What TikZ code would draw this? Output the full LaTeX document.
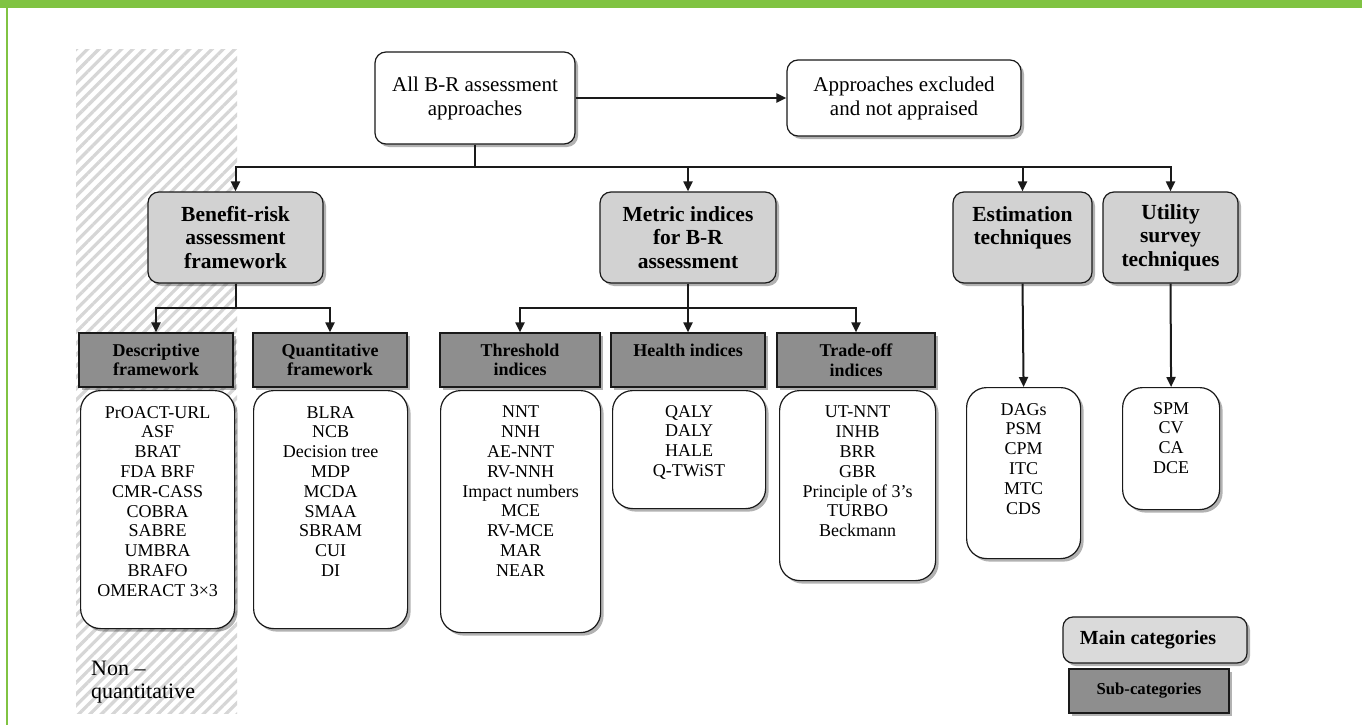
\documentclass[tikz,border=0pt]{standalone}
\usepackage{fontspec}
\setmainfont{Liberation Serif}
\usetikzlibrary{arrows.meta,shadows,patterns.meta}
\definecolor{grn}{HTML}{80C342}
\definecolor{maingray}{HTML}{D2D2D2}
\definecolor{leggray}{HTML}{DADADA}
\definecolor{subgray}{HTML}{8E8E8E}
\definecolor{hatchc}{HTML}{D6D6D6}
\definecolor{ink}{HTML}{1A1A1A}
\tikzset{
  shad/.style={drop shadow={shadow xshift=3pt,shadow yshift=-3pt,fill=black,opacity=0.3}},
  topbox/.style={draw=ink, line width=1.2pt, fill=white, rounded corners=11pt, shad, align=center, inner sep=0pt,
    font=\fontsize{21pt}{24pt}\selectfont},
  mainbox/.style={draw=ink, line width=1.2pt, fill=maingray, rounded corners=11pt, shad, align=center, inner sep=0pt,
    minimum height=91pt, font=\fontsize{21.5pt}{23.5pt}\selectfont\bfseries},
  subbox/.style={draw=ink, line width=1.2pt, fill=subgray, shad, align=center, inner sep=0pt,
    minimum height=54pt, font=\fontsize{18pt}{19.5pt}\selectfont\bfseries},
  listbox/.style={draw=ink, line width=1.2pt, fill=white, rounded corners=20pt, shad, inner sep=0pt, anchor=north west},
  listtext/.style={anchor=north, align=center, inner sep=0pt, font=\fontsize{18pt}{19.8pt}\selectfont},
  conn/.style={draw=ink, line width=2pt},
  arr/.style={draw=ink, line width=2pt, -{Triangle[length=10pt,width=9pt]}},
}
\begin{document}
\begin{tikzpicture}[x=1pt,y=-1pt]
\useasboundingbox (0,0) rectangle (1362,725);
\fill[white] (0,0) rectangle (1362,725);
% green frame
\fill[grn] (0,0) rectangle (1362,8);
\fill[grn] (6,8) rectangle (8,725);
% hatched non-quantitative zone
\fill[pattern={Lines[angle=45,distance=8pt,line width=3.2pt]}, pattern color=hatchc] (76,50) rectangle (237,713);

% top level
\node[topbox, minimum width=200pt, minimum height=92pt] (all) at (475,98) {All B-R assessment\\approaches};
\node[topbox, minimum width=234pt, minimum height=76pt] (excl) at (904,98) {Approaches excluded\\and not appraised};
\draw[arr] (all.east) -- (excl.west);

% main categories
\node[mainbox, minimum width=175pt] (brf) at (235.5,237.5) {Benefit-risk\\assessment\\framework};
\node[mainbox, minimum width=176pt] (met) at (688,237.5) {Metric indices\\for B-R\\assessment};
\node[mainbox, minimum width=139pt] (est) at (1022.5,237.5) {Estimation\\techniques\\\mbox{}};
\node[mainbox, minimum width=135pt] (uti) at (1170.5,237.5) {Utility\\survey\\techniques};

\coordinate (j0) at (475,167);
\draw[conn] (all.south) -- (j0);
\draw[arr] (j0) -| (brf.north);
\draw[arr] (j0) -| (met.north);
\draw[arr] (j0) -| (est.north);
\draw[arr] (j0) -| (uti.north);

% sub-categories
\node[subbox, minimum width=154pt] (desc) at (156,360) {Descriptive\\framework};
\node[subbox, minimum width=154pt] (quant) at (330,360) {Quantitative\\framework};
\node[subbox, minimum width=160pt] (thr) at (520,360) {Threshold\\indices};
\node[subbox, minimum width=154pt] (hea) at (688,360) {Health indices\\\mbox{}};
\node[subbox, minimum width=158pt] (tra) at (856,360) {Trade-off\\indices};

\coordinate (j1) at (235.5,308);
\draw[conn] (brf.south) -- (j1);
\draw[arr] (j1) -| (desc.north);
\draw[arr] (j1) -| (quant.north);

\coordinate (j2) at (688,308);
\draw[conn] (met.south) -- (j2);
\draw[arr] (j2) -| (thr.north);
\draw[arr] (j2) -- (hea.north);
\draw[arr] (j2) -| (tra.north);

% lists
\node[listbox, minimum width=154pt, minimum height=238pt] (dl) at (80,390) {};
\node[listtext] (dlt) at ([yshift=-16pt]dl.north) {PrOACT-URL\\ASF\\BRAT\\FDA BRF\\CMR-CASS\\COBRA\\SABRE\\UMBRA\\BRAFO\\OMERACT 3×3};
\node[listbox, minimum width=154pt, minimum height=238pt] (ql) at (253,390) {};
\node[listtext] (qlt) at ([yshift=-16pt]ql.north) {BLRA\\NCB\\Decision tree\\MDP\\MCDA\\SMAA\\SBRAM\\CUI\\DI};
\node[listbox, minimum width=160pt, minimum height=242pt] (tl) at (440,390) {};
\node[listtext] (tlt) at ([yshift=-16pt]tl.north) {NNT\\NNH\\AE-NNT\\RV-NNH\\Impact numbers\\MCE\\RV-MCE\\MAR\\NEAR};
\node[listbox, minimum width=153pt, minimum height=118pt] (hl) at (612,390) {};
\node[listtext] (hlt) at ([yshift=-15pt]hl.north) {QALY\\DALY\\HALE\\Q-TWiST};
\node[listbox, minimum width=156pt, minimum height=190pt] (tol) at (779,390) {};
\node[listtext] (tolt) at ([yshift=-16pt]tol.north) {UT-NNT\\INHB\\BRR\\GBR\\Principle of 3’s\\TURBO\\Beckmann};
\node[listbox, minimum width=114pt, minimum height=171pt] (el) at (966,387) {};
\node[listtext] (elt) at ([yshift=-16pt]el.north) {DAGs\\PSM\\CPM\\ITC\\MTC\\CDS};
\node[listbox, minimum width=97pt, minimum height=122pt] (ul) at (1122,387) {};
\node[listtext] (ult) at ([yshift=-15pt]ul.north) {SPM\\CV\\CA\\DCE};

\draw[arr] (est.south) -- (el.north);
\draw[arr] (uti.south) -- (ul.north);

% non-quantitative label
\node[anchor=north west, align=left, inner sep=0pt, font=\fontsize{22pt}{23pt}\selectfont] (nq) at (91,661) {Non --\\quantitative};

% legend
\node[draw=ink, line width=1.2pt, fill=leggray, rounded corners=10pt, shad, inner sep=0pt,
  minimum width=184pt, minimum height=46pt, font=\fontsize{20pt}{22pt}\selectfont\bfseries] (leg1) at (1155,640) {\hspace*{-14pt}Main categories};
\node[draw=ink, line width=1.2pt, fill=subgray, shad, inner sep=0pt,
  minimum width=160pt, minimum height=44pt, font=\fontsize{16.7pt}{19pt}\selectfont\bfseries] (leg2) at (1149,691) {Sub-categories};
\end{tikzpicture}
\end{document}
